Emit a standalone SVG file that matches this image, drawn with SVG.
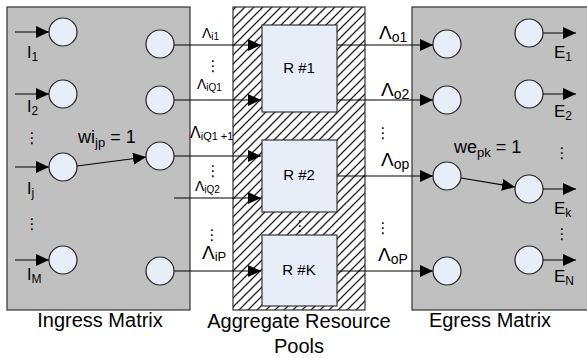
<svg xmlns="http://www.w3.org/2000/svg" width="587" height="358" viewBox="0 0 587 358">
<style>
.mat{fill:#c0c0c0;stroke:#333;stroke-width:1.2}
.node{fill:#e8eef8;stroke:#222;stroke-width:1.2}
.res{fill:#e8eef8;stroke:#333;stroke-width:1.2}
.ln{stroke:#000;stroke-width:1.1;fill:none}
.arr{marker-end:url(#ah)}
text{font-family:"Liberation Sans",Arial,sans-serif;fill:#000}
.dots{font-family:"DejaVu Sans",sans-serif;font-size:15px;text-anchor:middle}
.big{font-size:20px;text-anchor:middle}
</style>
<defs>
<marker id="ah" markerWidth="14" markerHeight="12" refX="13" refY="6" orient="auto" markerUnits="userSpaceOnUse">
<path d="M0,0 L13,6 L0,12 Z" fill="#000"/>
</marker>
<pattern id="hatch" patternUnits="userSpaceOnUse" width="9" height="9">
<rect width="9" height="9" fill="#fff"/>
<path d="M-1,10 L10,-1 M-3,3 L3,-3 M6,12 L12,6" stroke="#222" stroke-width="1.3"/>
</pattern>
</defs>

<g id="ingress">
<rect class="mat" x="7" y="7" width="183" height="303"/>
<text class="big" x="100" y="327">Ingress Matrix</text>
</g>
<g id="pools">
<rect x="233" y="7" width="132" height="303" fill="url(#hatch)" stroke="#333" stroke-width="1.2"/>
<text class="big" x="299" y="328">Aggregate Resource</text>
<text class="big" x="299" y="353">Pools</text>
</g>
<g id="egress">
<rect class="mat" x="412" y="7" width="190" height="303"/>
<text class="big" x="490" y="327">Egress Matrix</text>
</g>

<g id="connectors">
<line class="ln arr" x1="15" y1="32" x2="49" y2="32"/>
<line class="ln arr" x1="15" y1="94" x2="49" y2="94"/>
<line class="ln arr" x1="15" y1="167" x2="49" y2="167"/>
<line class="ln arr" x1="15" y1="260" x2="49" y2="260"/>
<line class="ln arr" x1="77" y1="166" x2="146" y2="157"/>
<line class="ln arr" x1="174" y1="45" x2="261" y2="45"/>
<line class="ln arr" x1="174" y1="100" x2="261" y2="100"/>
<line class="ln arr" x1="174" y1="156" x2="261" y2="156"/>
<line class="ln arr" x1="174" y1="198" x2="261" y2="198"/>
<line class="ln arr" x1="174" y1="271" x2="261" y2="271"/>
<line class="ln arr" x1="337" y1="45" x2="433" y2="45"/>
<line class="ln arr" x1="337" y1="100" x2="433" y2="100"/>
<line class="ln arr" x1="337" y1="176" x2="433" y2="176"/>
<line class="ln arr" x1="337" y1="271" x2="433" y2="271"/>
<line class="ln arr" x1="461" y1="178" x2="515" y2="187"/>
<line class="ln arr" x1="543" y1="33" x2="576" y2="33"/>
<line class="ln arr" x1="543" y1="94" x2="576" y2="94"/>
<line class="ln arr" x1="543" y1="189" x2="576" y2="189"/>
<line class="ln arr" x1="543" y1="260" x2="576" y2="260"/>
</g>

<g id="in-nodes">
<circle class="node" cx="63" cy="32" r="14"/>
<circle class="node" cx="63" cy="94" r="14"/>
<circle class="node" cx="63" cy="167" r="14"/>
<circle class="node" cx="63" cy="260" r="14"/>
<circle class="node" cx="160" cy="44" r="14"/>
<circle class="node" cx="160" cy="100" r="14"/>
<circle class="node" cx="160" cy="156" r="14"/>
<circle class="node" cx="160" cy="271" r="14"/>
</g>
<g id="eg-nodes">
<circle class="node" cx="447" cy="44" r="14"/>
<circle class="node" cx="447" cy="100" r="14"/>
<circle class="node" cx="447" cy="176" r="14"/>
<circle class="node" cx="447" cy="271" r="14"/>
<circle class="node" cx="529" cy="33" r="14"/>
<circle class="node" cx="529" cy="94" r="14"/>
<circle class="node" cx="529" cy="189" r="14"/>
<circle class="node" cx="529" cy="260" r="14"/>
</g>

<g id="r1"><rect class="res" x="262" y="25" width="75" height="87"/><text x="299" y="73" font-size="15" text-anchor="middle">R #1</text></g>
<g id="r2"><rect class="res" x="262" y="140" width="75" height="72"/><text x="299" y="180" font-size="15" text-anchor="middle">R #2</text></g>
<g id="rk"><rect class="res" x="262" y="235" width="75" height="71"/><text x="299" y="275" font-size="15" text-anchor="middle">R #K</text></g>

<g id="labels">
<text x="27" y="58" font-size="16">I<tspan font-size="12" dy="3">1</tspan></text>
<text x="27" y="112" font-size="16">I<tspan font-size="12" dy="3">2</tspan></text>
<text x="27" y="194" font-size="16">I<tspan font-size="12" dy="3">j</tspan></text>
<text x="27" y="280" font-size="16">I<tspan font-size="12" dy="3">M</tspan></text>
<text x="78" y="143" font-size="18">wi<tspan font-size="13" dy="4">jp</tspan><tspan dy="-4"> = 1</tspan></text>
<text x="454" y="153" font-size="18">we<tspan font-size="13" dy="4">pk</tspan><tspan dy="-4"> = 1</tspan></text>
<text x="202" y="38" font-size="14">Λ<tspan font-size="10" dy="2">i1</tspan></text>
<text x="197" y="89" font-size="14">Λ<tspan font-size="10" dy="2">iQ1</tspan></text>
<text x="190" y="138" font-size="16">Λ<tspan font-size="11" dy="2">iQ1 +1</tspan></text>
<text x="195" y="191" font-size="14">Λ<tspan font-size="10" dy="2">iQ2</tspan></text>
<text x="202" y="259" font-size="19">Λ<tspan font-size="13" dy="2">iP</tspan></text>
<text x="379" y="39" font-size="19">Λ<tspan font-size="14" dy="3">o1</tspan></text>
<text x="381" y="96" font-size="19">Λ<tspan font-size="14" dy="3">o2</tspan></text>
<text x="381" y="166" font-size="19">Λ<tspan font-size="14" dy="3">op</tspan></text>
<text x="378" y="261" font-size="19">Λ<tspan font-size="14" dy="3">oP</tspan></text>
<text x="554" y="58" font-size="17">E<tspan font-size="12" dy="3">1</tspan></text>
<text x="554" y="117" font-size="17">E<tspan font-size="12" dy="3">2</tspan></text>
<text x="554" y="214" font-size="17">E<tspan font-size="12" dy="3">k</tspan></text>
<text x="554" y="282" font-size="17">E<tspan font-size="12" dy="3">N</tspan></text>
<text class="dots" x="32" y="143">⋮</text>
<text class="dots" x="32" y="229">⋮</text>
<text class="dots" x="213" y="71">⋮</text>
<text class="dots" x="213" y="176">⋮</text>
<text class="dots" x="212" y="240">⋮</text>
<text class="dots" x="300" y="231">⋮</text>
<text class="dots" x="383" y="138">⋮</text>
<text class="dots" x="383" y="233">⋮</text>
<text class="dots" x="562" y="158">⋮</text>
<text class="dots" x="562" y="239">⋮</text>
</g>
</svg>
